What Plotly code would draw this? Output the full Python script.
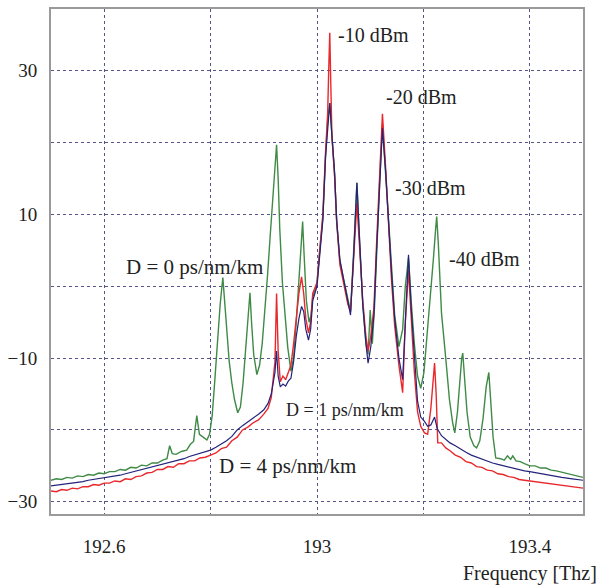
import plotly.graph_objects as go

# ---- data ----
green_x = [192.500, 192.510, 192.520, 192.530, 192.540, 192.550, 192.560, 192.570, 192.580, 192.590,
           192.600, 192.610, 192.620, 192.630, 192.640, 192.650, 192.660, 192.670, 192.680, 192.690,
           192.700, 192.710, 192.718, 192.723, 192.728, 192.735, 192.745, 192.755, 192.762, 192.768,
           192.774, 192.779, 192.786, 192.793, 192.798, 192.803, 192.808, 192.813, 192.818, 192.823,
           192.826, 192.830, 192.835, 192.840, 192.845, 192.851, 192.856, 192.861, 192.866, 192.870,
           192.874, 192.877, 192.881, 192.887, 192.892, 192.897, 192.902, 192.907, 192.912, 192.917,
           192.921, 192.924, 192.927, 192.930, 192.935, 192.940, 192.945, 192.951, 192.956, 192.961,
           192.966, 192.970, 192.973, 192.976, 192.980, 192.985, 192.989, 192.992, 193.000, 193.005,
           193.011, 193.016, 193.020, 193.024, 193.028, 193.033, 193.037, 193.043, 193.050, 193.058,
           193.063, 193.069, 193.075, 193.080, 193.086, 193.092, 193.096, 193.100, 193.104, 193.108,
           193.112, 193.118, 193.123, 193.129, 193.135, 193.140, 193.146, 193.154, 193.161, 193.166,
           193.172, 193.177, 193.183, 193.189, 193.195, 193.201, 193.207, 193.213, 193.219, 193.223,
           193.225, 193.228, 193.234, 193.242, 193.249, 193.255, 193.259, 193.264, 193.268, 193.272,
           193.274, 193.277, 193.282, 193.288, 193.295, 193.300, 193.306, 193.312, 193.318, 193.323,
           193.327, 193.331, 193.336, 193.345, 193.352, 193.358, 193.364, 193.368, 193.374, 193.382,
           193.390, 193.400, 193.410, 193.420, 193.430, 193.440, 193.450, 193.460, 193.470, 193.480,
           193.490, 193.500]
green_y = [-27.0, -26.8, -26.9, -26.6, -26.7, -26.4, -26.5, -26.2, -26.3, -26.0,
           -26.1, -25.8, -25.8, -25.5, -25.6, -25.2, -25.3, -24.9, -25.0, -24.6,
           -24.6, -24.2, -24.0, -22.2, -23.3, -23.4, -23.0, -22.8, -22.0, -21.6,
           -18.0, -20.6, -21.0, -21.4, -20.6, -18.0, -13.0, -7.0, -2.5, 1.2,
           -2.0, -6.5, -10.5, -13.5, -15.8, -17.6, -16.8, -13.5, -8.5, -3.5,
           -0.9, -5.0, -9.5, -12.3, -11.0, -8.0, -3.5, 1.5, 7.0, 12.5,
           16.5, 19.7, 15.0, 8.0, 0.5, -4.5, -8.5, -11.8, -10.0, -5.0,
           1.0, 6.0, 9.0, 4.0, -2.0, -5.0, -4.0, -1.5, 0.5, 5.0,
           9.5, 18.0, 23.0, 25.5, 21.0, 15.5, 9.0, 3.5, 1.0, -2.0,
           -3.5, 5.0, 14.4, 6.5, -2.5, -8.0, -9.5, -3.3, -8.0, -3.0,
           5.0, 15.0, 22.5, 15.5, 7.5, 1.5, -4.0, -8.4, -6.0, 0.0,
           4.0, -2.0, -8.0, -12.5, -14.2, -12.0, -7.0, -2.0, 4.0, 8.0,
           9.7, 6.0, -3.7, -10.0, -15.8, -19.0, -20.4, -17.5, -13.0, -10.0,
           -9.3, -12.0, -17.5, -21.0, -22.2, -22.5, -21.5, -18.5, -14.0, -12.0,
           -16.0, -21.0, -23.9, -24.0, -24.2, -23.6, -24.1, -23.6, -24.3, -24.4,
           -24.7, -25.0, -25.0, -25.3, -25.3, -25.6, -25.7, -25.9, -26.0, -26.2,
           -26.4, -26.6]

blue_x = [192.500, 192.510, 192.520, 192.530, 192.540, 192.550, 192.560, 192.570, 192.580, 192.590,
          192.600, 192.610, 192.620, 192.630, 192.640, 192.650, 192.660, 192.670, 192.680, 192.690,
          192.700, 192.710, 192.720, 192.730, 192.740, 192.750, 192.760, 192.770, 192.780, 192.790,
          192.800, 192.810, 192.820, 192.830, 192.840, 192.850, 192.860, 192.870, 192.880, 192.890,
          192.900, 192.908, 192.914, 192.918, 192.921, 192.924, 192.927, 192.931, 192.936, 192.941,
          192.946, 192.951, 192.956, 192.961, 192.966, 192.971, 192.975, 192.979, 192.984, 192.988,
          192.992, 193.000, 193.005, 193.011, 193.016, 193.020, 193.024, 193.028, 193.033, 193.037,
          193.043, 193.050, 193.058, 193.063, 193.069, 193.075, 193.080, 193.086, 193.092, 193.096,
          193.101, 193.107, 193.112, 193.118, 193.123, 193.129, 193.135, 193.140, 193.146, 193.154,
          193.161, 193.166, 193.172, 193.177, 193.183, 193.189, 193.195, 193.202, 193.208, 193.214,
          193.221, 193.226, 193.234, 193.242, 193.250, 193.260, 193.270, 193.280, 193.290, 193.300,
          193.310, 193.320, 193.330, 193.340, 193.350, 193.360, 193.370, 193.380, 193.390, 193.400,
          193.420, 193.440, 193.460, 193.480, 193.500]
blue_y = [-27.8, -27.7, -27.6, -27.5, -27.4, -27.3, -27.2, -27.0, -26.9, -26.8,
          -26.7, -26.6, -26.4, -26.3, -26.1, -25.9, -25.8, -25.6, -25.4, -25.2,
          -25.0, -24.8, -24.6, -24.4, -24.2, -24.0, -23.7, -23.5, -23.2, -23.0,
          -22.8, -22.4, -22.0, -21.5, -20.9, -20.0, -19.4, -18.9, -18.4, -17.8,
          -17.2, -16.3, -15.0, -13.5, -12.0, -9.0, -12.5, -14.0, -13.6, -13.9,
          -13.2, -12.8, -10.5, -7.0, -4.5, -2.8, -3.5, -6.0, -7.5, -6.0,
          -2.0, 0.0, 4.5, 9.2, 18.0, 22.5, 25.5, 21.0, 16.0, 9.2,
          3.7, 1.0, -2.0, -4.0, 4.5, 14.4, 6.5, -2.5, -8.0, -10.7,
          -8.5, -4.0, 5.0, 15.0, 22.0, 16.0, 8.0, 2.0, -4.5, -10.0,
          -13.0, -4.0, 4.4, -3.0, -10.0, -16.0, -18.2, -18.8, -19.5, -19.3,
          -18.2, -19.8, -20.8, -21.3, -21.8, -22.2, -22.7, -23.1, -23.5, -23.8,
          -24.1, -24.3, -24.6, -24.8, -25.0, -25.2, -25.4, -25.5, -25.7, -25.8,
          -26.1, -26.4, -26.6, -26.8, -27.0]

red_x = [192.500, 192.510, 192.520, 192.530, 192.540, 192.550, 192.560, 192.570, 192.580, 192.590,
         192.600, 192.610, 192.620, 192.630, 192.640, 192.650, 192.660, 192.670, 192.680, 192.690,
         192.700, 192.710, 192.720, 192.730, 192.740, 192.750, 192.760, 192.770, 192.780, 192.790,
         192.800, 192.810, 192.820, 192.830, 192.840, 192.850, 192.860, 192.870, 192.880, 192.890,
         192.900, 192.908, 192.914, 192.918, 192.921, 192.924, 192.927, 192.931, 192.936, 192.941,
         192.946, 192.951, 192.956, 192.961, 192.966, 192.971, 192.975, 192.979, 192.984, 192.988,
         192.992, 193.000, 193.005, 193.011, 193.016, 193.020, 193.022, 193.024, 193.026, 193.028,
         193.033, 193.037, 193.043, 193.050, 193.058, 193.063, 193.069, 193.075, 193.080, 193.086,
         193.092, 193.096, 193.101, 193.107, 193.112, 193.118, 193.123, 193.129, 193.135, 193.140,
         193.146, 193.154, 193.161, 193.166, 193.172, 193.177, 193.183, 193.189, 193.195, 193.202,
         193.208, 193.214, 193.218, 193.221, 193.224, 193.227, 193.234, 193.242, 193.250, 193.260,
         193.270, 193.280, 193.290, 193.300, 193.310, 193.320, 193.330, 193.340, 193.350, 193.360,
         193.370, 193.380, 193.390, 193.400, 193.420, 193.440, 193.460, 193.480, 193.500]
red_y = [-28.5, -28.6, -28.3, -28.4, -28.1, -28.2, -27.9, -27.9, -27.6, -27.7,
         -27.4, -27.4, -27.1, -27.2, -26.8, -26.9, -26.5, -26.4, -26.0, -25.9,
         -25.5, -25.5, -25.1, -25.2, -24.7, -24.7, -24.3, -24.3, -23.9, -23.8,
         -23.5, -23.2, -22.6, -22.4, -21.5, -21.0, -20.0, -19.6, -19.0, -18.6,
         -17.8, -17.0, -15.5, -13.0, -10.5, -1.0, -9.0, -13.3, -12.5, -13.0,
         -12.0, -11.0, -8.0, -4.0, -1.0, 1.3, -1.0, -4.5, -6.5, -5.0,
         -1.0, 0.5, 5.0, 10.0, 18.5, 24.0, 30.0, 35.3, 28.0, 21.0,
         15.5, 9.0, 3.0, 0.5, -2.5, -3.5, 3.5, 11.6, 5.5, -2.0,
         -7.0, -9.0, -7.0, -3.0, 6.0, 16.0, 24.0, 16.5, 7.5, 1.0,
         -5.5, -11.0, -14.8, -5.0, 2.3, -4.5, -12.0, -17.5, -19.5, -20.4,
         -20.6, -17.0, -13.0, -10.7, -15.0, -21.8, -21.8, -22.5, -22.9, -23.5,
         -23.8, -24.4, -24.6, -25.1, -25.2, -25.6, -25.7, -26.1, -26.2, -26.5,
         -26.6, -26.9, -27.0, -27.1, -27.3, -27.6, -27.7, -27.9, -28.1]

x_tickvals = [192.6, 192.8, 193.0, 193.2, 193.4]
x_ticktext = ["192.6", "", "193", "", "193.4"]
y_tickvals = [-30, -20, -10, 0, 10, 20, 30]
y_ticktext = ["\u221230", "", "\u221210", "", "10", "", "30"]

power_labels = ["-10 dBm", "-20 dBm", "-30 dBm", "-40 dBm"]
power_label_x = [193.035, 193.125, 193.142, 193.244]
power_label_y = [35.0, 26.4, 13.7, 3.8]

disp_labels = ["D = 0 ps/nm/km", "D = 1 ps/nm/km", "D = 4 ps/nm/km"]
disp_label_x = [192.637, 192.938, 192.812]
disp_label_y = [2.7, -17.2, -25.0]
disp_label_size = [21, 18, 21]

FONT = "Liberation Serif"

fig = go.Figure()
fig.add_trace(go.Scatter(x=green_x, y=green_y, mode="lines",
                         line=dict(color="#3f8a45", width=1.4), showlegend=False))
fig.add_trace(go.Scatter(x=red_x, y=red_y, mode="lines",
                         line=dict(color="#e8282c", width=1.4), showlegend=False))
fig.add_trace(go.Scatter(x=blue_x, y=blue_y, mode="lines",
                         line=dict(color="#23237a", width=1.2), showlegend=False))

annotations = []
for t, x, y in zip(power_labels, power_label_x, power_label_y):
    annotations.append(dict(x=x, y=y, xref="x", yref="y", text=t, showarrow=False,
                            xanchor="left", yanchor="middle",
                            font=dict(family=FONT, size=20, color="#222222")))
for t, x, y, s in zip(disp_labels, disp_label_x, disp_label_y, disp_label_size):
    annotations.append(dict(x=x, y=y, xref="x", yref="y", text=t, showarrow=False,
                            xanchor="left", yanchor="middle",
                            font=dict(family=FONT, size=s, color="#222222")))
annotations.append(dict(x=1.03, y=-0.117, xref="paper", yref="paper", text="Frequency [Thz]",
                        showarrow=False, xanchor="right", yanchor="middle",
                        font=dict(family=FONT, size=20, color="#222222")))

fig.update_layout(
    width=612, height=586,
    margin=dict(l=51, r=29, t=9, b=72, autoexpand=False),
    paper_bgcolor="white", plot_bgcolor="white",
    annotations=annotations,
    showlegend=False,
)
fig.update_xaxes(range=[192.5, 193.5], tickvals=x_tickvals, ticktext=x_ticktext,
                 showgrid=True, gridcolor="#55558a", griddash="dot", gridwidth=1,
                 showline=True, mirror=True, linecolor="#9a9a9a", linewidth=2,
                 ticks="", ticklabelstandoff=14, zeroline=False, automargin=False,
                 tickfont=dict(family=FONT, size=19, color="#222222"))
fig.update_yaxes(range=[-31.7, 38.6], tickvals=y_tickvals, ticktext=y_ticktext,
                 showgrid=True, gridcolor="#55558a", griddash="dot", gridwidth=1,
                 showline=True, mirror=True, linecolor="#9a9a9a", linewidth=2,
                 ticks="", ticklabelstandoff=8, zeroline=False, automargin=False,
                 tickfont=dict(family=FONT, size=19, color="#222222"))

fig.write_html(
    "out.html",
    config={"displayModeBar": False},
    post_script="document.body.style.margin='0';document.body.style.overflow='hidden';",
)
